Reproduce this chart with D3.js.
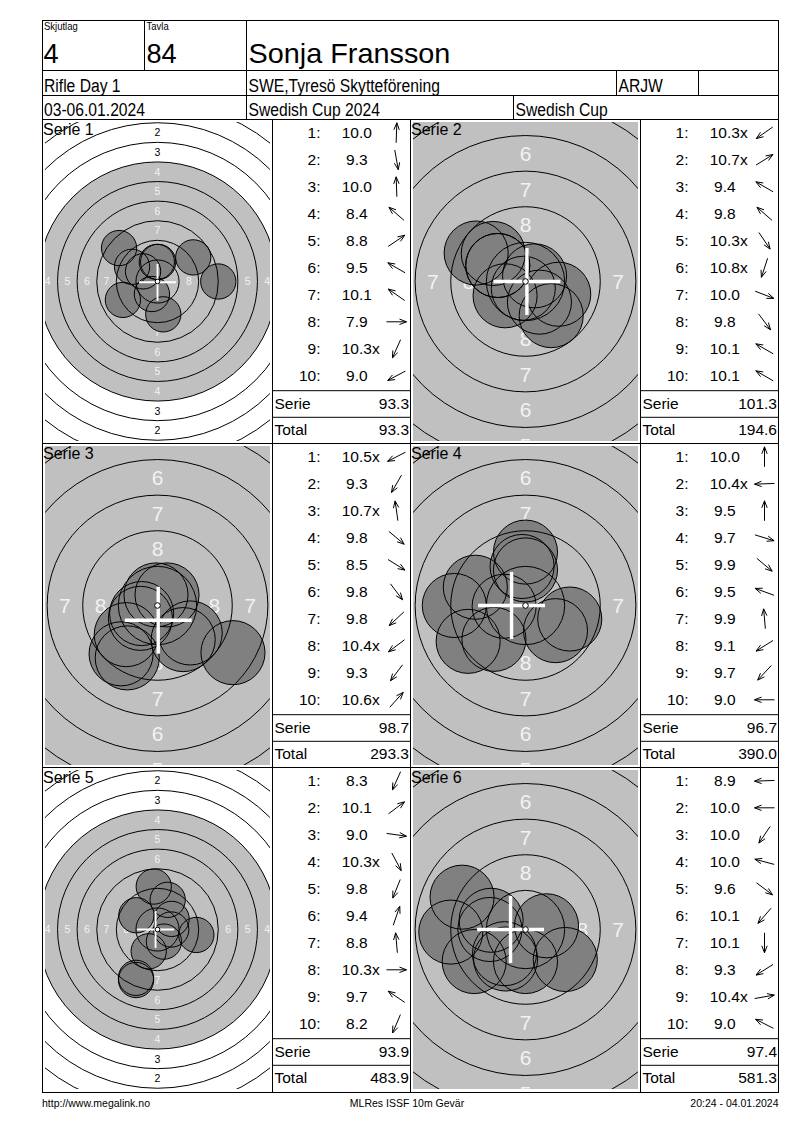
<!DOCTYPE html>
<html><head><meta charset="utf-8">
<script src="https://cdn.jsdelivr.net/npm/d3@7"></script>
<style>
body{margin:0;background:#fff}
svg text{font-family:"Liberation Sans",Arial,Helvetica,sans-serif;fill:#000}
</style>
</head><body>
<svg id="c" width="800" height="1130"></svg>
<script>
// ---------------- DATA ----------------
const headerSmallLabels = ["Skjutlag", "Tavla"];
const relayNo = "4";
const targetNo = "84";
const shooterName = "Sonja Fransson";
const eventName = "Rifle Day 1";
const clubName = "SWE,Tyresö Skytteförening";
const classCode = "ARJW";
const dateRange = "03-06.01.2024";
const competition = "Swedish Cup 2024";
const cupName = "Swedish Cup";
const footerTexts = ["http://www.megalink.no", "MLRes ISSF 10m Gevär", "20:24 - 04.01.2024"];

const seriesNames = ["Serie 1", "Serie 2", "Serie 3", "Serie 4", "Serie 5", "Serie 6"];
// shot scores as displayed ("x" = inner ten)
const serie1Scores = ["10.0","9.3","10.0","8.4","8.8","9.5","10.1","7.9","10.3x","9.0"];
const serie2Scores = ["10.3x","10.7x","9.4","9.8","10.3x","10.8x","10.0","9.8","10.1","10.1"];
const serie3Scores = ["10.5x","9.3","10.7x","9.8","8.5","9.8","9.8","10.4x","9.3","10.6x"];
const serie4Scores = ["10.0","10.4x","9.5","9.7","9.9","9.5","9.9","9.1","9.7","9.0"];
const serie5Scores = ["8.3","10.1","9.0","10.3x","9.8","9.4","8.8","10.3x","9.7","8.2"];
const serie6Scores = ["8.9","10.0","10.0","10.0","9.6","10.1","10.1","9.3","10.4x","9.0"];
// shot direction from target centre (compass bearing, degrees clockwise from 12 o'clock)
const serie1Dirs = [2,170,358,311,56,300,305,90,204,242];
const serie2Dirs = [235,58,300,311,146,198,111,143,300,300];
const serie3Dirs = [243,210,352,130,122,143,227,233,217,42];
const serie4Dirs = [0,268,0,107,130,290,355,238,223,270];
const serie5Dirs = [204,53,98,152,202,19,355,90,304,203];
const serie6Dirs = [268,270,214,285,127,221,180,238,80,297];
const serieSums = ["93.3","101.3","98.7","96.7","93.9","97.4"];
const runningTotals = ["93.3","194.6","293.3","390.0","483.9","581.3"];
// target view per series
const seriesViews = ["full","zoom","zoom","zoom","full","zoom"];
// mean point of impact (mm; x right, y up) as shown by the cross
const mpiX = [0.0, 0.1, 0.05, -0.98, -0.25, -1.05];
const mpiY = [-0.1, 0.0, -1.03, 0.0, 0.0, 0.0];
// ISSF 10m air rifle target: ring diameters (mm) for rings 1..10, pellet diameter
const ringNumbers = [1,2,3,4,5,6,7,8,9,10];
const ringDiametersMm = [45.5,40.5,35.5,30.5,25.5,20.5,15.5,10.5,5.5,0.5];
const blackRingFrom = 4;
const pelletDiameterMm = 4.5;
const ringWidthMm = 2.5;

const allScores = [serie1Scores, serie2Scores, serie3Scores, serie4Scores, serie5Scores, serie6Scores];
const allDirs = [serie1Dirs, serie2Dirs, serie3Dirs, serie4Dirs, serie5Dirs, serie6Dirs];

// ---------------- DRAW ----------------
const svg = d3.select("#c");

function htext(x, y, s, size, sx, anchor) {
  return svg.append("text")
    .attr("transform", `translate(${x},${y}) scale(${sx},1)`)
    .attr("font-size", size)
    .attr("text-anchor", anchor || "start")
    .text(s);
}
function line(g, x1, y1, x2, y2, w) {
  g.append("line").attr("x1", x1).attr("y1", y1).attr("x2", x2).attr("y2", y2)
    .attr("stroke", "#000").attr("stroke-width", w || 1);
}

const L = 42.5, R = 778.5, T = 20.5, B = 1092.5;
const rowTops = [119.5, 443.5, 767.5];
const rowH = 324;
const targetX = [42.5, 410.5];
const tableX = [272.5, 640.5];
const targetW = 230, tableW = 138;

const defs = svg.append("defs");

seriesNames.forEach((name, i) => {
  const row = Math.floor(i / 2), col = i % 2;
  const x0 = targetX[col], y0 = rowTops[row];
  const zoom = seriesViews[i] === "zoom";
  const k = zoom ? 14.24 : 7.84;
  const cx = x0 + targetW / 2, cy = y0 + rowH / 2;
  const xs = d3.scaleLinear().domain([-1, 1]).range([cx - k, cx + k]);
  const ys = d3.scaleLinear().domain([-1, 1]).range([cy + k, cy - k]);
  const rs = d3.scaleLinear().domain([0, 1]).range([0, k]);

  const cl = { l: x0 + 2.5, t: y0 + 2.5, r: x0 + targetW - 2.5, b: y0 + rowH - 2.5 };
  const clipId = "clip" + i;
  defs.append("clipPath").attr("id", clipId).append("rect")
    .attr("x", cl.l).attr("y", cl.t).attr("width", cl.r - cl.l).attr("height", cl.b - cl.t);
  const g = svg.append("g").attr("clip-path", `url(#${clipId})`);
  g.append("rect").attr("x", x0).attr("y", y0).attr("width", targetW).attr("height", rowH).attr("fill", "#fff");

  const rings = ringNumbers.map((n, j) => ({ n, r: ringDiametersMm[j] / 2 }));
  const blackR = rings.find(d => d.n === blackRingFrom).r;
  g.append("circle").attr("cx", xs(0)).attr("cy", ys(0)).attr("r", rs(blackR)).attr("fill", "#c0c0c0");

  // ring numbers (only those that show inside the panel)
  const fs = zoom ? 21 : 10.5;
  const hw = fs * 0.3, hh = fs * 0.36;
  const labelData = [];
  rings.filter(d => d.n <= 8).forEach(d => {
    const next = rings.find(e => e.n === d.n + 1);
    const lr = (d.r + next.r) / 2;
    [[0, 1], [0, -1], [-1, 0], [1, 0]].forEach(v => {
      const px = xs(v[0] * lr), py = ys(v[1] * lr);
      const inside = px + hw > cl.l && px - hw < cl.r && py + hh > cl.t && py - hh < cl.b;
      const topSliver = v[1] === 1 && py < cl.t;
      if (inside && !topSliver) labelData.push({ n: d.n, px, py });
    });
  });
  g.selectAll("text.rl").data(labelData).join("text").attr("class", "rl")
    .attr("x", d => d.px).attr("y", d => d.py).attr("dy", "0.36em")
    .attr("text-anchor", "middle").attr("font-size", fs)
    .style("fill", d => d.n < blackRingFrom ? "#000" : "#f2f2f2")
    .text(d => d.n);

  // shots
  const shots = allScores[i].map((s, j) => {
    const v = parseFloat(s);
    const dist = Math.max(0, (11 - v) * ringWidthMm);
    const a = allDirs[i][j] * Math.PI / 180;
    return { x: dist * Math.sin(a), y: dist * Math.cos(a) };
  });
  const pr = pelletDiameterMm / 2;
  g.selectAll("circle.pf").data(shots).join("circle").attr("class", "pf")
    .attr("cx", d => xs(d.x)).attr("cy", d => ys(d.y)).attr("r", rs(pr))
    .attr("fill", "#808080");
  g.selectAll("circle.ring").data(rings.filter(d => d.n < 10)).join("circle").attr("class", "ring")
    .attr("cx", xs(0)).attr("cy", ys(0)).attr("r", d => rs(d.r))
    .attr("fill", "none").attr("stroke", "#000").attr("stroke-width", 1);
  g.selectAll("circle.po").data(shots).join("circle").attr("class", "po")
    .attr("cx", d => xs(d.x)).attr("cy", d => ys(d.y)).attr("r", rs(pr))
    .attr("fill", "none").attr("stroke", "#000").attr("stroke-width", 1);

  // MPI cross
  const arm = 2.35, cw = rs(0.24);
  const mx = mpiX[i], my = mpiY[i];
  g.append("line").attr("x1", xs(mx - arm)).attr("x2", xs(mx + arm)).attr("y1", ys(my)).attr("y2", ys(my))
    .attr("stroke", "#fff").attr("stroke-width", cw);
  g.append("line").attr("x1", xs(mx)).attr("x2", xs(mx)).attr("y1", ys(my - arm)).attr("y2", ys(my + arm))
    .attr("stroke", "#fff").attr("stroke-width", cw);
  g.append("circle").attr("cx", xs(0)).attr("cy", ys(0))
    .attr("r", zoom ? 2.8 : 2.3)
    .attr("fill", "#fff").attr("stroke", "#000").attr("stroke-width", 1);

  svg.append("text").attr("x", x0 + 0.5).attr("y", y0 + 15).attr("font-size", 16).text(name);

  // ---- table ----
  const tx = tableX[col];
  const tg = svg.append("g");
  allScores[i].forEach((s, j) => {
    const by = y0 + 18.8 + j * 27;
    tg.append("text").attr("x", tx + 48).attr("y", by).attr("text-anchor", "end").attr("font-size", 15.5).text((j + 1) + ":");
    const num = s.replace("x", "");
    const t = tg.append("text").attr("x", tx + 84.3).attr("y", by).attr("text-anchor", "middle").attr("font-size", 15.5).text(num);
    if (s.endsWith("x")) {
      const w = t.node().getComputedTextLength();
      tg.append("text").attr("x", tx + 84.3 + w / 2).attr("y", by).attr("font-size", 15.5).text("x");
    }
    const a = allDirs[i][j] * Math.PI / 180;
    const ux = Math.sin(a), uy = -Math.cos(a);
    const acx = tx + 124, acy = by - 5.5, half = 10;
    const tipX = acx + ux * half, tipY = acy + uy * half;
    const tailX = acx - ux * half, tailY = acy - uy * half;
    const hl = 7.5, ha = 21 * Math.PI / 180;
    const rot = (x, y, t) => [x * Math.cos(t) - y * Math.sin(t), x * Math.sin(t) + y * Math.cos(t)];
    const p1 = rot(-ux, -uy, ha), p2 = rot(-ux, -uy, -ha);
    const path = d3.path();
    path.moveTo(tailX, tailY); path.lineTo(tipX, tipY);
    path.moveTo(tipX + p1[0] * hl, tipY + p1[1] * hl); path.lineTo(tipX, tipY); path.lineTo(tipX + p2[0] * hl, tipY + p2[1] * hl);
    tg.append("path").attr("d", path.toString()).attr("fill", "none").attr("stroke", "#000").attr("stroke-width", 1);
  });
  const sTop = y0 + 271.2, tTop = y0 + 297.8;
  line(svg, tx, sTop, tx + tableW, sTop);
  line(svg, tx, tTop, tx + tableW, tTop);
  tg.append("text").attr("x", tx + 2).attr("y", sTop + 18).attr("font-size", 15.5).text("Serie");
  tg.append("text").attr("x", tx + tableW - 1.5).attr("y", sTop + 18).attr("text-anchor", "end").attr("font-size", 15.5).text(serieSums[i]);
  tg.append("text").attr("x", tx + 2).attr("y", tTop + 18).attr("font-size", 15.5).text("Total");
  tg.append("text").attr("x", tx + tableW - 1.5).attr("y", tTop + 18).attr("text-anchor", "end").attr("font-size", 15.5).text(runningTotals[i]);
});

// ---- grid lines ----
svg.append("rect").attr("x", L).attr("y", T).attr("width", R - L).attr("height", B - T)
  .attr("fill", "none").attr("stroke", "#000").attr("stroke-width", 1);
[70.5, 95.5, 119.5, 443.5, 767.5].forEach(y => line(svg, L, y, R, y));
line(svg, 144.5, T, 144.5, 70.5);
line(svg, 246.5, T, 246.5, 119.5);
line(svg, 616.5, 70.5, 616.5, 95.5);
line(svg, 698.5, 70.5, 698.5, 95.5);
line(svg, 513.5, 95.5, 513.5, 119.5);
[272.5, 410.5, 640.5].forEach(x => line(svg, x, 119.5, x, B));

// ---- header texts ----
htext(44, 29.5, headerSmallLabels[0], 10, 0.95);
htext(146.5, 29.5, headerSmallLabels[1], 10, 0.95);
htext(43.5, 63, relayNo, 28, 0.97);
htext(146.5, 63, targetNo, 28, 0.97);
htext(248.5, 63, shooterName, 28, 1.03);
htext(44, 91.5, eventName, 18, 0.87);
htext(248.5, 91.5, clubName, 18, 0.87);
htext(618.5, 91.5, classCode, 18, 0.87);
htext(44, 115.5, dateRange, 18, 0.87);
htext(248.5, 115.5, competition, 18, 0.87);
htext(515.5, 115.5, cupName, 18, 0.87);

// ---- footer ----
htext(42, 1107, footerTexts[0], 10.5, 1);
htext(407, 1107, footerTexts[1], 10.5, 1, "middle");
htext(778.5, 1107, footerTexts[2], 10.5, 1, "end");
</script>
</body></html>
